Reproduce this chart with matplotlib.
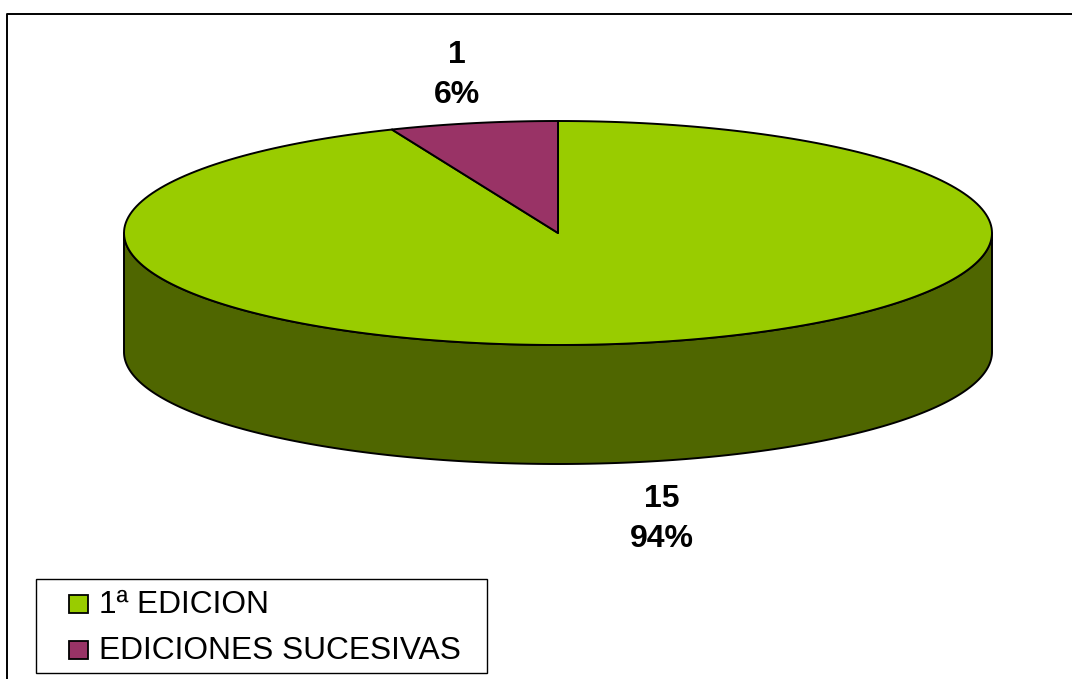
import numpy as np
import matplotlib
matplotlib.use("Agg")
import matplotlib.pyplot as plt
from matplotlib.patches import Polygon, Rectangle

plt.rcParams['font.family'] = ['Liberation Sans', 'DejaVu Sans']

categories = ['1ª EDICION', 'EDICIONES SUCESIVAS']
values = [15, 1]
top_colors = ['#99CC00', '#993366']
side_colors = ['#4F6600', '#4D1A33']

W, H = 1072, 679
CX, CY, RX, RY, DEPTH = 558, 233, 434, 112, 119

fig = plt.figure(figsize=(W / 100, H / 100), dpi=100, facecolor='white')
ax = fig.add_axes([0, 0, 1, 1])
ax.set_xlim(0, W)
ax.set_ylim(H, 0)
ax.axis('off')

# outer frame: open on the right and bottom, as in the reference
ax.plot([7, 7, W], [H, 13.5, 13.5], color='black', lw=1.4, solid_capstyle='butt')


def rim(a0, a1, n=240):
    # angles are clockwise from 12 o'clock, in degrees
    t = np.radians(np.linspace(a0, a1, n))
    return CX + RX * np.sin(t), CY - RY * np.cos(t)


fractions = np.array(values) / sum(values)
edges = np.concatenate([[0], np.cumsum(fractions) * 360])

# side wall, drawn for the visible (lower) half of the rim
for i in range(len(values)):
    a0, a1 = max(edges[i], 90), min(edges[i + 1], 270)
    if a1 > a0:
        x, y = rim(a0, a1)
        pts = np.vstack([np.c_[x, y], np.c_[x[::-1], y[::-1] + DEPTH]])
        ax.add_patch(Polygon(pts, closed=True, fc=side_colors[i], ec='black', lw=1.4, joinstyle='round'))

# top face
for i in range(len(values)):
    x, y = rim(edges[i], edges[i + 1])
    pts = np.vstack([[CX, CY], np.c_[x, y]])
    ax.add_patch(Polygon(pts, closed=True, fc=top_colors[i], ec='black', lw=1.4, joinstyle='round'))

# data labels: value and percentage
label_pos = [(662, 499), (457, 55)]
for (lx, ly), v, f in zip(label_pos, values, fractions):
    ax.text(lx, ly, str(v), ha='center', va='center', fontsize=23, fontweight='bold', color='black')
    ax.text(lx, ly + 40, f'{f * 100:.0f}%', ha='center', va='center', fontsize=23, fontweight='bold', color='black')

# legend
ax.add_patch(Rectangle((36, 579), 451, 94, fc='white', ec='black', lw=1.0, zorder=3))
for i, (c, col) in enumerate(zip(categories, top_colors)):
    yy = 604 + i * 46
    ax.add_patch(Rectangle((69, yy - 9), 19, 18, fc=col, ec='black', lw=1.3, zorder=4))
    ax.text(99, yy + 1, c, ha='left', va='center', fontsize=22.8, color='black', zorder=4)

fig.savefig('out.png', dpi=100, facecolor='white')
